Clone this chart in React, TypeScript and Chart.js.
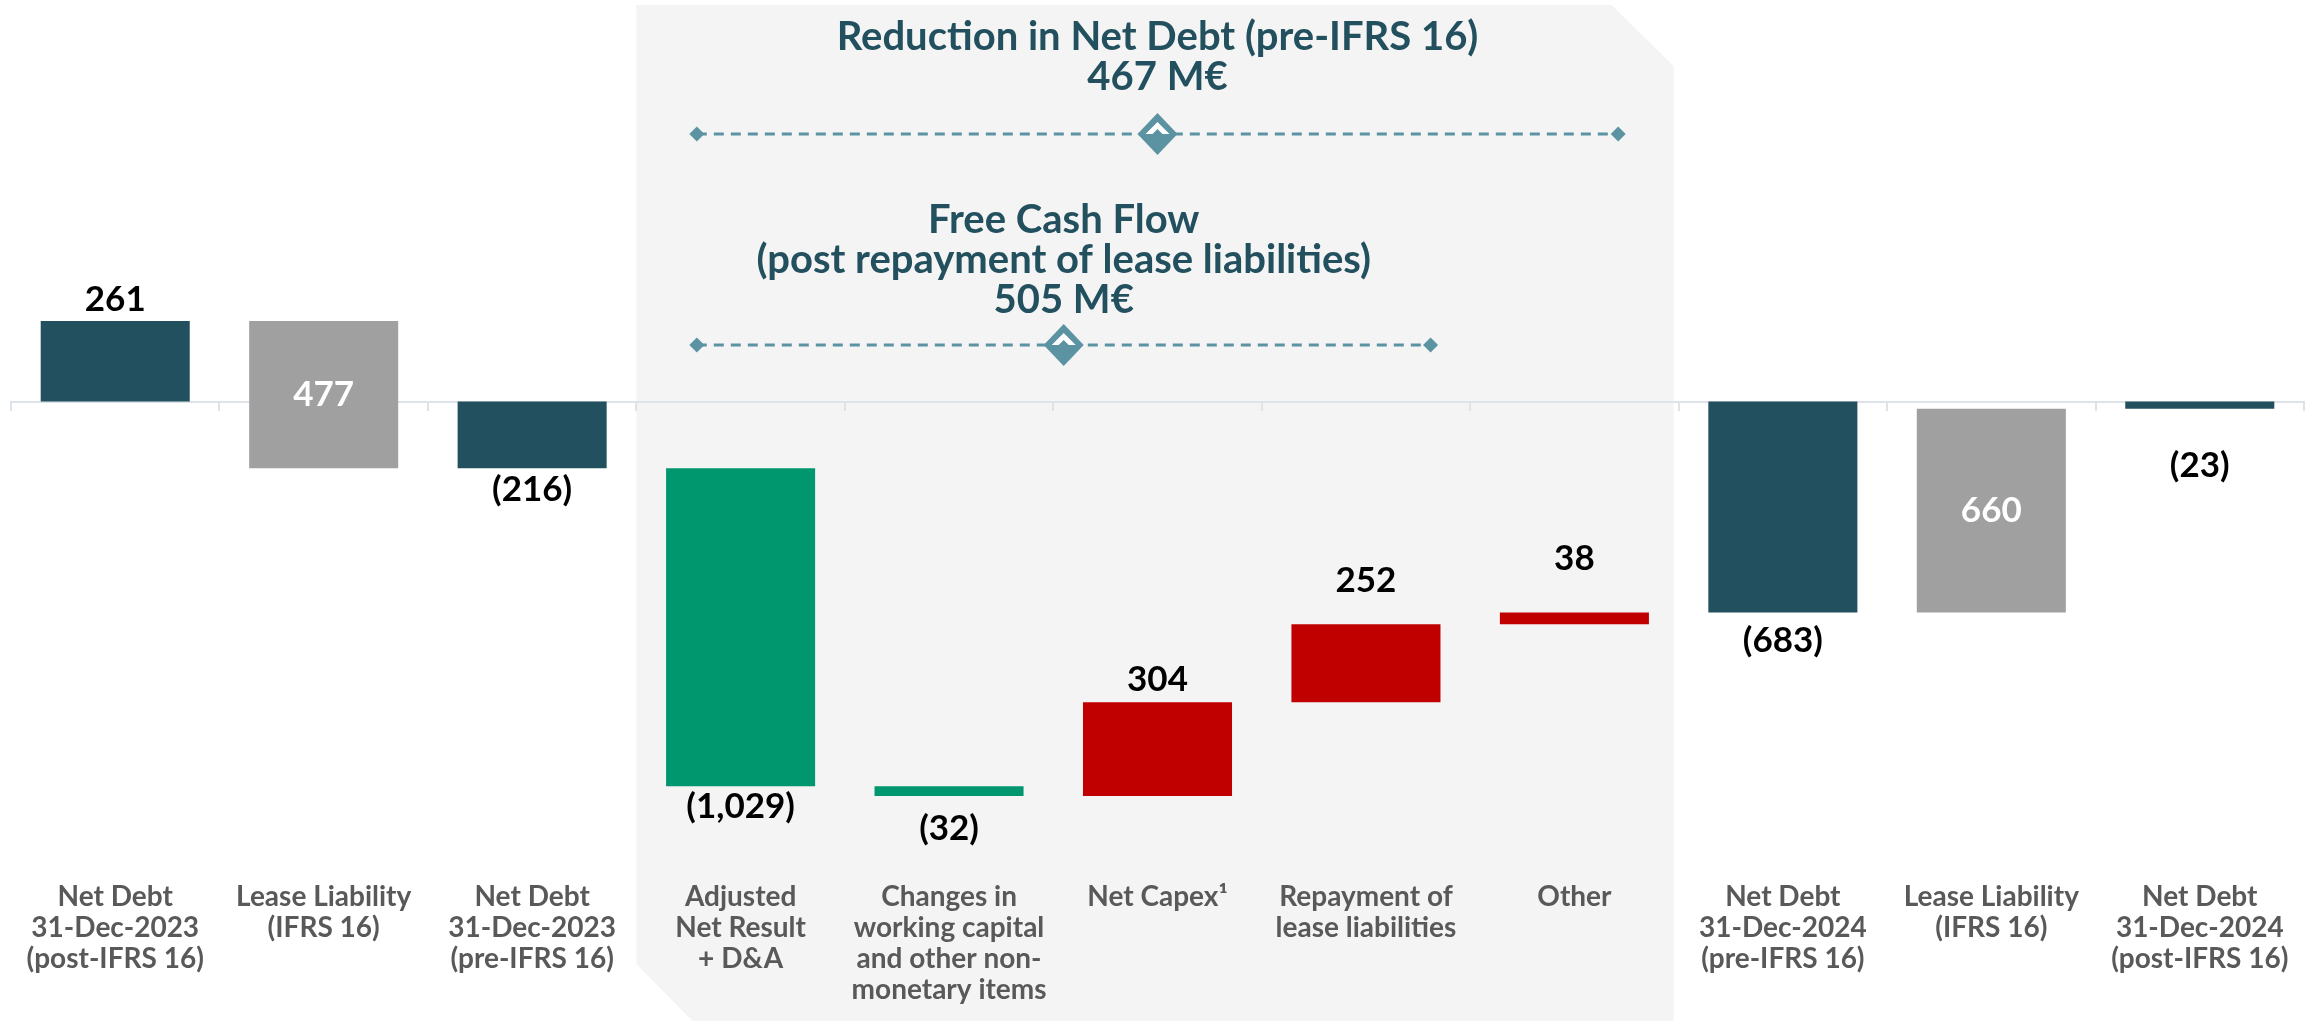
import React, { useEffect, useRef } from "react";
import { Chart, registerables } from "chart.js";

Chart.register(...registerables);

// ---------- data ----------
const categoryLabels: string[][] = [
  ["Net Debt", "31-Dec-2023", "(post-IFRS 16)"],
  ["Lease Liability", "(IFRS 16)"],
  ["Net Debt", "31-Dec-2023", "(pre-IFRS 16)"],
  ["Adjusted", "Net Result", "+ D&A"],
  ["Changes in", "working capital", "and other non-", "monetary items"],
  ["Net Capex\u00B9"],
  ["Repayment of", "lease liabilities"],
  ["Other"],
  ["Net Debt", "31-Dec-2024", "(pre-IFRS 16)"],
  ["Lease Liability", "(IFRS 16)"],
  ["Net Debt", "31-Dec-2024", "(post-IFRS 16)"],
];

// totals are levels; other kinds are steps added to the running level
const stepValues = [261, -477, -216, -1029, -32, 304, 252, 38, -683, 660, -23];
const stepKinds = [
  "total", "lease", "total", "inflow", "inflow", "outflow", "outflow", "outflow", "total", "lease", "total",
];

const bracketTitles: string[][] = [
  ["Reduction in Net Debt (pre-IFRS 16)"],
  ["Free Cash Flow", "(post repayment of lease liabilities)"],
];
const bracketAmounts = [467, 505];
const bracketUnit = "M\u20AC";

// ---------- styling / layout ----------
const KIND_COLORS: Record<string, string> = {
  total: "#23505E",
  lease: "#A0A0A0",
  inflow: "#00976F",
  outflow: "#C00000",
};
const LABEL_OFFSETS = [21, 0, 21, 21, 33, 22, 44, 54, 28, 0, 57];
const BRACKETS = [
  { from: 2.79, to: 7.21, level: 866, titleGap: 57 },
  { from: 2.79, to: 6.31, level: 183, titleGap: 45 },
];
const FONT = "Lato, 'Open Sans', sans-serif";
const TEAL = "#23505E";
const ACCENT = "#5B93A3";
const AXIS = "#DDE3E8";

function buildRanges(): [number, number][] {
  let level = 0;
  return stepValues.map((v, i) => {
    if (stepKinds[i] === "total") {
      level = v;
      return [0, v] as [number, number];
    }
    const start = level;
    level += v;
    return [start, level] as [number, number];
  });
}

function formatLabel(v: number, kind: string): string {
  const s = Math.abs(v).toLocaleString("en-US");
  if (kind === "lease") return s;
  return v < 0 ? `(${s})` : s;
}

const panelPlugin = {
  id: "panel",
  beforeDraw(chart: any) {
    const { ctx } = chart;
    const x = chart.scales.x;
    const left = x.getPixelForValue(2.5);
    const right = x.getPixelForValue(7.5) - 5;
    const top = 5;
    const bottom = chart.height;
    ctx.save();
    ctx.fillStyle = "#F4F4F4";
    ctx.beginPath();
    ctx.moveTo(left, top);
    ctx.lineTo(right - 62, top);
    ctx.lineTo(right, top + 61);
    ctx.lineTo(right, bottom);
    ctx.lineTo(left + 56, bottom);
    ctx.lineTo(left, bottom - 57);
    ctx.closePath();
    ctx.fill();
    ctx.restore();
  },
};

const labelPlugin = {
  id: "barLabels",
  afterDatasetsDraw(chart: any) {
    const { ctx } = chart;
    const meta = chart.getDatasetMeta(0);
    ctx.save();
    ctx.font = `bold 35px ${FONT}`;
    ctx.textAlign = "center";
    ctx.textBaseline = "middle";
    meta.data.forEach((el: any, i: number) => {
      const kind = stepKinds[i];
      const v = stepValues[i];
      const top = Math.min(el.y, el.base);
      const bottom = Math.max(el.y, el.base);
      const text = formatLabel(v, kind);
      let y: number;
      if (kind === "lease") {
        ctx.fillStyle = "#FFFFFF";
        y = (top + bottom) / 2;
      } else {
        ctx.fillStyle = "#000000";
        y = v < 0 ? bottom + LABEL_OFFSETS[i] : top - LABEL_OFFSETS[i];
      }
      ctx.fillText(text, el.x, y);
    });
    ctx.restore();
  },
};

function diamond(ctx: CanvasRenderingContext2D, cx: number, cy: number, hw: number, hh: number) {
  ctx.beginPath();
  ctx.moveTo(cx, cy - hh);
  ctx.lineTo(cx + hw, cy);
  ctx.lineTo(cx, cy + hh);
  ctx.lineTo(cx - hw, cy);
  ctx.closePath();
  ctx.fill();
}

const bracketPlugin = {
  id: "brackets",
  afterDraw(chart: any) {
    const { ctx } = chart;
    const x = chart.scales.x;
    const yS = chart.scales.y;
    ctx.save();
    BRACKETS.forEach((b, k) => {
      const x1 = x.getPixelForValue(b.from);
      const x2 = x.getPixelForValue(b.to);
      const y = yS.getPixelForValue(b.level);
      const cx = (x1 + x2) / 2;
      ctx.strokeStyle = ACCENT;
      ctx.lineWidth = 3;
      ctx.setLineDash([10, 7]);
      ctx.beginPath();
      ctx.moveTo(x1, y);
      ctx.lineTo(x2, y);
      ctx.stroke();
      ctx.setLineDash([]);
      ctx.fillStyle = ACCENT;
      diamond(ctx, x1, y, 7.5, 7.5);
      diamond(ctx, x2, y, 7.5, 7.5);
      diamond(ctx, cx, y, 20, 21);
      ctx.fillStyle = "#FFFFFF";
      ctx.beginPath();
      ctx.moveTo(cx - 12, y);
      ctx.lineTo(cx, y - 12);
      ctx.lineTo(cx + 12, y);
      ctx.lineTo(cx + 5, y);
      ctx.lineTo(cx, y - 5);
      ctx.lineTo(cx - 5, y);
      ctx.closePath();
      ctx.fill();

      const lines = [...bracketTitles[k], `${bracketAmounts[k]} ${bracketUnit}`];
      ctx.fillStyle = TEAL;
      ctx.font = `bold 40px ${FONT}`;
      ctx.textAlign = "center";
      ctx.textBaseline = "middle";
      const lastY = y - b.titleGap;
      lines.forEach((t, j) => {
        ctx.fillText(t, cx, lastY - (lines.length - 1 - j) * 40);
      });
    });
    ctx.restore();
  },
};

export default function App() {
  const canvasRef = useRef<HTMLCanvasElement | null>(null);

  useEffect(() => {
    if (!canvasRef.current) return;
    const ranges = buildRanges();
    const chart = new Chart(canvasRef.current, {
      type: "bar",
      data: {
        labels: categoryLabels,
        datasets: [
          {
            data: ranges as any,
            backgroundColor: stepKinds.map((k) => KIND_COLORS[k]),
            borderWidth: 0,
            borderSkipped: false,
            barPercentage: 0.715,
            categoryPercentage: 1,
          },
        ],
      },
      options: {
        responsive: true,
        maintainAspectRatio: false,
        animation: false,
        layout: { padding: { left: 11, right: 6, top: 0, bottom: 8 } },
        plugins: {
          legend: { display: false },
          tooltip: { enabled: false },
        },
        scales: {
          x: {
            type: "category",
            position: "bottom",
            offset: true,
            grid: { display: false, drawTicks: false },
            border: { display: false },
            ticks: {
              color: "#595959",
              font: { family: FONT, size: 28, weight: "bold", lineHeight: "31px" },
              padding: 8,
              maxRotation: 0,
              minRotation: 0,
              autoSkip: false,
            },
          },
          x2: {
            type: "category",
            position: { y: 0 } as any,
            offset: true,
            grid: {
              display: true,
              offset: true,
              drawOnChartArea: false,
              drawTicks: true,
              tickLength: 8,
              color: AXIS,
              lineWidth: 2,
            },
            border: { display: true, color: AXIS, width: 2 },
            ticks: { display: false },
          },
          y: {
            display: false,
            min: -1526,
            max: 1300,
          },
        },
      },
      plugins: [panelPlugin, labelPlugin, bracketPlugin],
    });
    return () => chart.destroy();
  }, []);

  return (
    <div style={{ position: "absolute", left: 0, top: 0, width: 2310, height: 1021, background: "#FFFFFF" }}>
      <canvas ref={canvasRef} />
    </div>
  );
}
